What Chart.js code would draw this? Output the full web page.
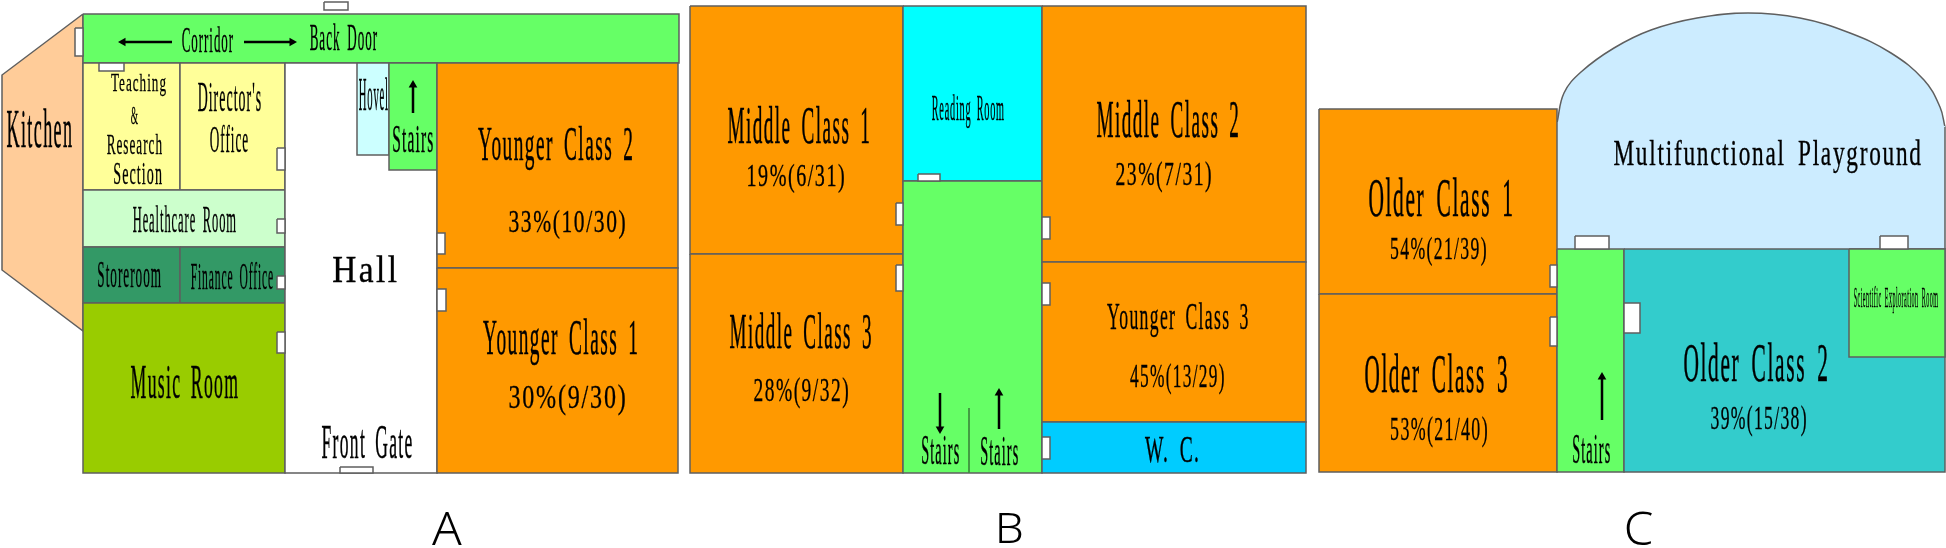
<!DOCTYPE html>
<html>
<head>
<meta charset="utf-8">
<title>Kindergarten floor plan</title>
<script src="https://cdn.jsdelivr.net/npm/chart.js@4/dist/chart.umd.min.js"></script>
<style>
    html, body { margin: 0; padding: 0; background: #ffffff; }
    canvas { display: block; }
</style>
</head>
<body>
<canvas id="floorPlan" width="1946" height="548"></canvas>
<script>
// plan is measured in reference pixels, y counted from the top
const planWidth = 1946
const planHeight = 548

// rooms
const roomNames = ['Corridor', 'Teaching', 'Director', 'Healthcare', 'Storeroom', 'Finance', 'Music', 'Hall', 'Hovel', 'StairsA', 'Younger2', 'Younger1',
    'Middle1', 'Middle3', 'Reading', 'StairsB', 'Middle2', 'Younger3', 'WC',
    'Older1', 'Older3', 'StairsC', 'Older2', 'Scientific']
const roomLeft = [83, 83, 180, 83, 83, 180, 83, 285, 357, 389, 437, 437, 690, 690, 903, 903, 1042, 1042, 1042, 1319, 1319, 1557, 1624, 1849]
const roomRight = [679, 180, 285, 285, 180, 285, 285, 437, 389, 437, 678, 678, 903, 903, 1042, 1042, 1306, 1306, 1306, 1557, 1557, 1624, 1945, 1945]
const roomTop = [14, 63, 63, 190, 247, 247, 303, 63, 63, 63, 63, 268, 6, 254, 6, 181, 6, 262, 422, 109, 294, 249, 249, 249]
const roomBottom = [63, 190, 190, 247, 303, 303, 473, 473, 155, 170, 268, 473, 254, 473, 181, 473, 262, 422, 473, 294, 472, 472, 472, 357]
const roomColors = ['#66FF66', '#FFFF99', '#FFFF99', '#CCFFCC', '#339966', '#339966', '#99CC00', '#FFFFFF', '#CCFFFF', '#66FF66', '#FF9900', '#FF9900',
    '#FF9900', '#FF9900', '#00FFFF', '#66FF66', '#FF9900', '#FF9900', '#00CCFF',
    '#FF9900', '#FF9900', '#66FF66', '#33CCCC', '#66FF66']

// kitchen outline
const kitchenX = [83, 2, 2, 83]
const kitchenY = [14, 75, 270, 331]

// playground dome, read along its edge
const domeX = [1557, 1564, 1581, 1614, 1651, 1697, 1748, 1800, 1850, 1891, 1924, 1940, 1945]
const domeY = [123, 93, 72, 48, 30, 18, 13, 18, 33, 53, 80, 107, 127]
const playgroundBase = 249

// doors
const doorLeft = [324, 75, 99, 277, 277, 277, 277, 437, 437, 340, 918, 896, 896, 1042, 1042, 1042, 1575, 1880, 1550, 1550, 1624]
const doorRight = [348, 83, 124, 285, 285, 285, 285, 445, 446, 373, 940, 903, 903, 1050, 1050, 1050, 1609, 1908, 1557, 1557, 1640]
const doorTop = [2, 28, 63, 148, 219, 276, 332, 233, 289, 467, 174, 203, 265, 217, 283, 437, 236, 236, 265, 317, 303]
const doorBottom = [10, 56, 71, 170, 233, 289, 353, 254, 311, 473, 181, 225, 291, 239, 305, 459, 249, 249, 287, 346, 333]

// arrows go tail to head
const arrowTailX = [172, 244, 413, 940, 999, 1602]
const arrowTailY = [42, 42, 113, 393, 429, 420]
const arrowHeadX = [123, 292, 413, 940, 999, 1602]
const arrowHeadY = [42, 42, 85, 429, 393, 377]
const arrowRotation = [-90, 90, 0, 180, 0, 0]

// stairs divider in building B
const dividerX = [969, 969]
const dividerY = [408, 473]

// labels, each one fitted to the box its ink covers
const labelTexts = ['Kitchen', 'Corridor', 'Back Door', 'Teaching', '&', 'Research', 'Section', "Director's", 'Office', 'Healthcare Room', 'Storeroom', 'Finance Office',
    'Hall', 'Hovel', 'Stairs', 'Music Room', 'Front Gate', 'Younger Class 2', '33%(10/30)', 'Younger Class 1', '30%(9/30)',
    'Middle Class 1', '19%(6/31)', 'Reading Room', 'Middle Class 2', '23%(7/31)', 'Middle Class 3', '28%(9/32)', 'Stairs', 'Stairs', 'Younger Class 3', '45%(13/29)', 'W. C.',
    'Older Class 1', '54%(21/39)', 'Multifunctional Playground', 'Older Class 3', '53%(21/40)', 'Stairs', 'Older Class 2', '39%(15/38)', 'Scientific Exploration Room']
const labelLeft = [7, 182, 310, 111, 131, 107, 114, 198, 210, 133, 98, 191, 333, 359, 393, 131, 322, 478, 509, 483, 509, 728, 748, 932, 1097, 1116, 730, 754, 922, 981, 1107, 1130, 1145, 1369, 1391, 1614, 1365, 1391, 1573, 1684, 1711, 1854]
const labelRight = [72, 233, 377, 166, 138, 162, 162, 261, 248, 236, 161, 273, 397, 388, 433, 238, 412, 632, 625, 637, 625, 869, 844, 1004, 1238, 1211, 871, 848, 959, 1018, 1248, 1224, 1198, 1512, 1486, 1921, 1507, 1487, 1610, 1827, 1806, 1938]
const labelTop = [109, 26, 24, 73, 107, 133, 163, 83, 124, 205, 262, 262, 255, 77, 126, 367, 426, 126, 209, 319, 385, 104, 163, 94, 99, 162, 312, 378, 437, 437, 302, 363, 437, 176, 237, 138, 352, 417, 435, 341, 405, 286]
const labelBottom = [147, 52, 50, 97, 124, 154, 184, 111, 152, 232, 287, 289, 282, 110, 152, 398, 458, 171, 239, 365, 416, 143, 193, 128, 137, 193, 348, 409, 464, 465, 338, 395, 463, 216, 266, 173, 392, 448, 463, 381, 437, 313]

// building letters under the plans
const buildingNames = ['A', 'B', 'C']
const buildingLeft = [432, 999, 1626]
const buildingRight = [462, 1022, 1653]
const buildingTop = [512, 512, 511]
const buildingBottom = [545, 543, 545]

const edgeColor = '#5f5f5f'

const shapeDataset = function (xs, ys, fillColor, tension) {
    return {
        data: xs.map((x, i) => ({ x: x, y: ys[i] })),
        showLine: true,
        fill: 'shape',
        backgroundColor: fillColor,
        borderColor: edgeColor,
        borderWidth: 1.5,
        pointRadius: 0,
        tension: tension || 0,
        clip: false
    }
}

const boxDataset = function (left, right, top, bottom, fillColor) {
    return shapeDataset([left, right, right, left, left], [top, top, bottom, bottom, top], fillColor)
}

const edgeDataset = function (xs, ys, color, width) {
    return {
        data: xs.map((x, i) => ({ x: x, y: ys[i] })),
        showLine: true,
        borderColor: color,
        borderWidth: width,
        pointRadius: 0,
        clip: false
    }
}

let datasets = []

datasets.push(shapeDataset(kitchenX.concat(kitchenX[0]), kitchenY.concat(kitchenY[0]), '#FFCC99'))

// curved top of the playground, then the straight part under it
const domeLeft = domeX[0]
const domeRight = domeX[domeX.length - 1]
const domeLeftY = domeY[0]
const domeRightY = domeY[domeY.length - 1]
datasets.push(shapeDataset(domeX, domeY, '#CCECFF', 0.4))
let playgroundBody = shapeDataset(
    [domeLeft, domeRight, domeRight, domeLeft, domeLeft],
    [domeLeftY - 1, domeRightY - 1, playgroundBase, playgroundBase, domeLeftY - 1],
    '#CCECFF'
)
playgroundBody.borderWidth = 0
datasets.push(playgroundBody)
datasets.push(edgeDataset([domeRight, domeRight], [domeRightY, playgroundBase], edgeColor, 1.5))

roomNames.forEach((name, i) => {
    datasets.push(boxDataset(roomLeft[i], roomRight[i], roomTop[i], roomBottom[i], roomColors[i]))
})

doorLeft.forEach((left, i) => {
    datasets.push(boxDataset(left, doorRight[i], doorTop[i], doorBottom[i], '#FFFFFF'))
})

datasets.push(edgeDataset(dividerX, dividerY, '#3f8f3f', 1))

arrowTailX.forEach((x, i) => {
    datasets.push({
        data: [{ x: x, y: arrowTailY[i] }, { x: arrowHeadX[i], y: arrowHeadY[i] }],
        showLine: true,
        borderColor: '#000000',
        borderWidth: 2.5,
        pointStyle: 'triangle',
        pointRadius: [0, 5],
        pointRotation: arrowRotation[i],
        pointBackgroundColor: '#000000',
        pointBorderColor: '#000000',
        pointBorderWidth: 0,
        clip: false
    })
})

// later datasets sit on top
datasets.forEach((dataset, i) => {
    dataset.order = datasets.length - i
})

const drawFitted = function (ctx, chart, text, left, right, top, bottom, outline) {
    const x = chart.scales.x
    const y = chart.scales.y
    const px0 = x.getPixelForValue(left)
    const px1 = x.getPixelForValue(right)
    const py0 = y.getPixelForValue(top)
    const py1 = y.getPixelForValue(bottom)
    const ink = ctx.measureText(text)
    const inkWidth = ink.actualBoundingBoxLeft + ink.actualBoundingBoxRight
    const inkHeight = ink.actualBoundingBoxAscent + ink.actualBoundingBoxDescent
    ctx.save()
    ctx.translate(px0, py0)
    ctx.scale((px1 - px0) / inkWidth, (py1 - py0) / inkHeight)
    ctx.fillText(text, ink.actualBoundingBoxLeft, ink.actualBoundingBoxAscent)
    if (outline) {
        ctx.strokeText(text, ink.actualBoundingBoxLeft, ink.actualBoundingBoxAscent)
    }
    ctx.restore()
}

const labelPlugin = {
    id: 'planLabels',
    afterDatasetsDraw: function (chart) {
        const ctx = chart.ctx
        ctx.save()
        ctx.fillStyle = '#000000'
        ctx.strokeStyle = '#000000'
        ctx.lineWidth = 0.4
        ctx.textAlign = 'left'
        ctx.textBaseline = 'alphabetic'
        ctx.font = '40px "Liberation Serif"'
        ctx.letterSpacing = '3px'
        ctx.wordSpacing = '8px'
        labelTexts.forEach((text, i) => {
            drawFitted(ctx, chart, text, labelLeft[i], labelRight[i], labelTop[i], labelBottom[i], true)
        })
        ctx.letterSpacing = '0px'
        ctx.wordSpacing = '0px'
        ctx.font = '300 44px "Noto Sans"'
        buildingNames.forEach((text, i) => {
            drawFitted(ctx, chart, text, buildingLeft[i], buildingRight[i], buildingTop[i], buildingBottom[i], false)
        })
        ctx.restore()
    }
}

const floorPlanChart = new Chart(
    document.getElementById('floorPlan'),
    {
        type: 'scatter',
        data: { datasets: datasets },
        options: {
            responsive: false,
            animation: false,
            layout: { padding: 0, autoPadding: false },
            plugins: {
                legend: { display: false },
                tooltip: { enabled: false }
            },
            scales: {
                x: { type: 'linear', min: 0, max: planWidth, display: false },
                y: { type: 'linear', min: 0, max: planHeight, reverse: true, display: false }
            }
        },
        plugins: [labelPlugin]
    }
)
</script>
</body>
</html>
